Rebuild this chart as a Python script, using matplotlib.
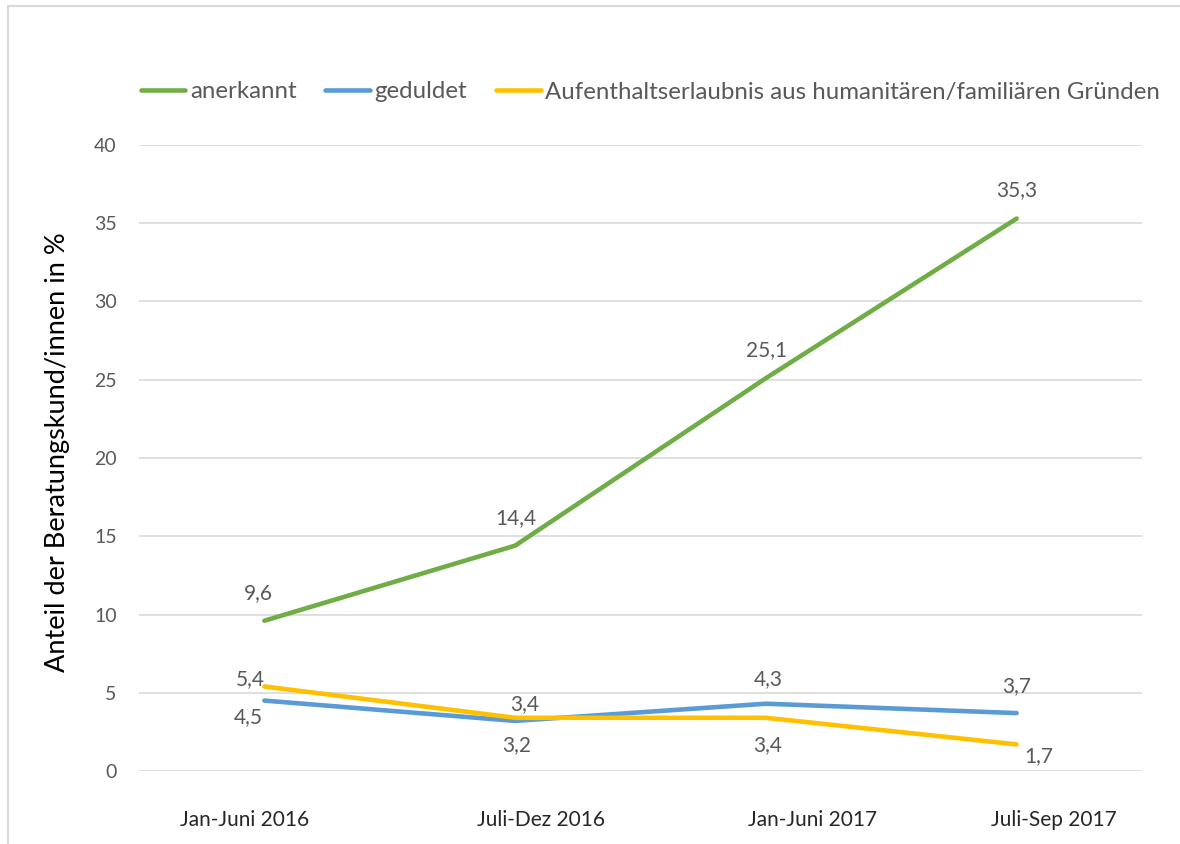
import matplotlib.pyplot as plt
from matplotlib.patches import Rectangle
from matplotlib.transforms import ScaledTranslation

plt.rcParams['font.family'] = ['Lato', 'DejaVu Sans']

# Data
periods = ["Jan-Juni 2016", "Juli-Dez 2016", "Jan-Juni 2017", "Juli-Sep 2017"]
anerkannt = [9.6, 14.4, 25.1, 35.3]
geduldet = [4.5, 3.2, 4.3, 3.7]
aufenthalt = [5.4, 3.4, 3.4, 1.7]
series_names = ["anerkannt", "geduldet",
                "Aufenthaltserlaubnis aus humanitären/familiären Gründen"]

colors = ["#70AD47", "#5B9BD5", "#FFC000"]
# label offsets in pixels (dx, dy) for each data label
label_offsets = [
    [(-6, 28), (1, 28), (1, 28), (0, 28)],
    [(-16, -17), (2, -24), (2, 25), (0, 27)],
    [(-14, 7), (10, 14), (2, -27), (22, -12)],
]

fig = plt.figure(figsize=(11.8, 8.44), dpi=100, facecolor='white')
ax = fig.add_axes([139/1180, 1-771/844, 1003/1180, 626/844])

x = range(len(periods))
for vals, name, col, offs in zip([anerkannt, geduldet, aufenthalt], series_names, colors, label_offsets):
    ax.plot(x, vals, color=col, linewidth=3.3, solid_capstyle='round', label=name)
    for xi, v, (dx, dy) in zip(x, vals, offs):
        ax.annotate(f"{v:.1f}".replace(".", ","), (xi, v), xytext=(dx, dy),
                    textcoords='offset pixels', ha='center', va='center',
                    fontsize=15, color="#595959")

ax.set_xlim(-0.5, 3.5)
ax.set_ylim(0, 40)
ax.set_yticks(range(0, 41, 5))
ax.set_xticks(list(x))
ax.set_xticklabels(periods)
ax.tick_params(axis='both', length=0, labelsize=14, labelcolor="#595959")
ax.tick_params(axis='y', pad=16)
ax.tick_params(axis='x', pad=28, labelsize=15, labelcolor="#262626")

# shift x tick labels like in the original
shifts = [-20, 26, 47, 37]
for lab, s in zip(ax.get_xticklabels(), shifts):
    lab.set_transform(lab.get_transform() + ScaledTranslation(s/100, 0, fig.dpi_scale_trans))

ax.grid(axis='y', color="#D9D9D9", linewidth=1.2)
ax.set_axisbelow(True)
for sp in ax.spines.values():
    sp.set_visible(False)

ax.set_ylabel("Anteil der Beratungskund/innen in %", fontsize=19.5, color="black")
ax.yaxis.set_label_coords(-0.069, 0.51)

fig.legend(loc='center left', bbox_to_anchor=(119/1180, 1-92/844), ncol=3,
           frameon=False, fontsize=17.3, handlelength=1.85, handletextpad=0.2,
           columnspacing=1.2, labelcolor="#595959")

# outer border
fig.patches.append(Rectangle((8/1180, -0.1), 1.2, 1.1 - 6/844, transform=fig.transFigure,
                             fill=False, edgecolor="#D9D9D9", linewidth=1.5))

fig.savefig("out.png", dpi=100)
